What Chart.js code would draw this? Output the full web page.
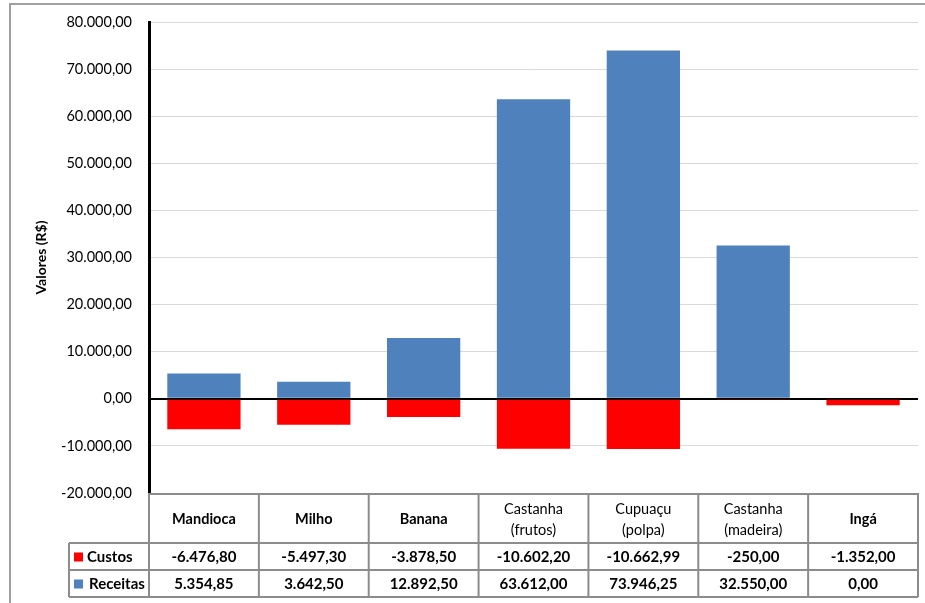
<!DOCTYPE html>
<html>
<head>
<meta charset="utf-8">
<script src="https://cdn.jsdelivr.net/npm/chart.js@4"></script>
<style>
  body { margin: 0; background: #fff; }
  canvas { display: block; }
</style>
</head>
<body>
<canvas id="myChart" width="925" height="603"></canvas>
<script>
// Data
const categorias = ["Mandioca", "Milho", "Banana", ["Castanha", "(frutos)"], ["Cupuaçu", "(polpa)"], ["Castanha", "(madeira)"], "Ingá"];
const custos = [-6476.80, -5497.30, -3878.50, -10602.20, -10662.99, -250.00, -1352.00];
const receitas = [5354.85, 3642.50, 12892.50, 63612.00, 73946.25, 32550.00, 0.00];
const series = [
  { label: "Custos", data: custos, color: "#FF0000" },
  { label: "Receitas", data: receitas, color: "#4F81BD" },
];

const FONT = "Lato";

// 12345.6 -> "12.345,60"
function formatBR(v) {
  const parts = Math.abs(v).toFixed(2).split(".");
  const inteiro = parts[0].replace(/\B(?=(\d{3})+(?!\d))/g, ".");
  return (v < 0 ? "-" : "") + inteiro + "," + parts[1];
}

// frame around the whole chart
const frame = {
  id: "frame",
  beforeDraw(chart) {
    const ctx = chart.ctx;
    ctx.save();
    ctx.strokeStyle = "#A0A0A0";
    ctx.lineWidth = 2;
    ctx.beginPath();
    ctx.moveTo(10, chart.height + 5);
    ctx.lineTo(10, 4);
    ctx.lineTo(chart.width + 5, 4);
    ctx.stroke();
    ctx.restore();
  },
};

// data table under the plot (categories + values with legend keys)
const dataTable = {
  id: "dataTable",
  afterDraw(chart) {
    const ctx = chart.ctx;
    const area = chart.chartArea;
    const n = categorias.length;
    const colW = (area.right - area.left) / n;
    const top = area.bottom;
    const headBottom = top + 50;
    const rowH = 27;
    const bottom = headBottom + rowH * series.length;
    const legendLeft = 69;

    ctx.save();
    ctx.strokeStyle = "#8C8C8C";
    ctx.lineWidth = 2;
    ctx.beginPath();
    // top of header row
    ctx.moveTo(area.left - 1, top + 1);
    ctx.lineTo(area.right, top + 1);
    // row lines
    for (let r = 0; r <= series.length; r++) {
      const y = headBottom + r * rowH;
      ctx.moveTo(legendLeft, y);
      ctx.lineTo(area.right, y);
    }
    // column lines
    for (let i = 0; i <= n; i++) {
      const x = area.left + i * colW;
      ctx.moveTo(x, top);
      ctx.lineTo(x, bottom);
    }
    ctx.moveTo(legendLeft, headBottom);
    ctx.lineTo(legendLeft, bottom);
    ctx.stroke();

    ctx.fillStyle = "#000";
    ctx.textAlign = "center";
    ctx.textBaseline = "middle";
    categorias.forEach((c, i) => {
      const cx = area.left + (i + 0.5) * colW;
      if (Array.isArray(c)) {
        ctx.font = "14.5px " + FONT;
        ctx.fillText(c[0], cx, top + 16);
        ctx.fillText(c[1], cx, top + 37);
      } else {
        ctx.font = "bold 14.5px " + FONT;
        ctx.fillText(c, cx, top + 26);
      }
    });

    series.forEach((s, r) => {
      const cy = headBottom + r * rowH + rowH / 2 + 1;
      ctx.font = "bold 15px " + FONT;
      ctx.textAlign = "center";
      s.data.forEach((v, i) => {
        ctx.fillText(formatBR(v), area.left + (i + 0.5) * colW, cy);
      });
      ctx.fillStyle = s.color;
      ctx.fillRect(legendLeft + 5, cy - 5, 9, 9);
      ctx.fillStyle = "#000";
      ctx.textAlign = "left";
      ctx.fillText(s.label, legendLeft + 18 + r * 2, cy);
    });
    ctx.restore();
  },
};

const config = {
  type: "bar",
  data: {
    labels: categorias,
    datasets: series.map((s) => ({
      label: s.label,
      data: s.data,
      backgroundColor: s.color,
      borderWidth: 0,
      barPercentage: 0.667,
      categoryPercentage: 1,
    })),
  },
  options: {
    responsive: false,
    animation: false,
    layout: { padding: { top: 22, right: 7, left: 0, bottom: 0 } },
    scales: {
      x: {
        stacked: true,
        ticks: { display: false },
        grid: { display: false, drawTicks: false },
        border: { display: false },
        afterFit: (scale) => {
          scale.height = 110;
          scale.paddingLeft = scale.paddingRight = 0;
        },
      },
      y: {
        stacked: true,
        min: -20000,
        max: 80000,
        ticks: {
          stepSize: 10000,
          padding: 17,
          color: "#000",
          font: { family: FONT, size: 14.5 },
          callback: (v) => formatBR(v),
        },
        grid: {
          drawTicks: false,
          color: (c) => (c.tick && c.tick.value === 0 ? "#000" : "#D9D9D9"),
          lineWidth: (c) => (c.tick && c.tick.value === 0 ? 2 : 1),
        },
        border: { color: "#000", width: 3 },
        title: {
          display: true,
          text: "Valores (R$)",
          color: "#000",
          font: { family: FONT, size: 14, weight: "bold" },
          padding: { top: 33, bottom: 0 },
        },
        afterFit: (scale) => {
          scale.width = 149;
          // let the layout padding alone place the plot top
          scale.paddingTop = scale.paddingBottom = 0;
        },
      },
    },
    plugins: {
      legend: { display: false },
      tooltip: { enabled: false },
    },
  },
  plugins: [frame, dataTable],
};

myChart = new Chart(document.getElementById("myChart"), config);
</script>
</body>
</html>
